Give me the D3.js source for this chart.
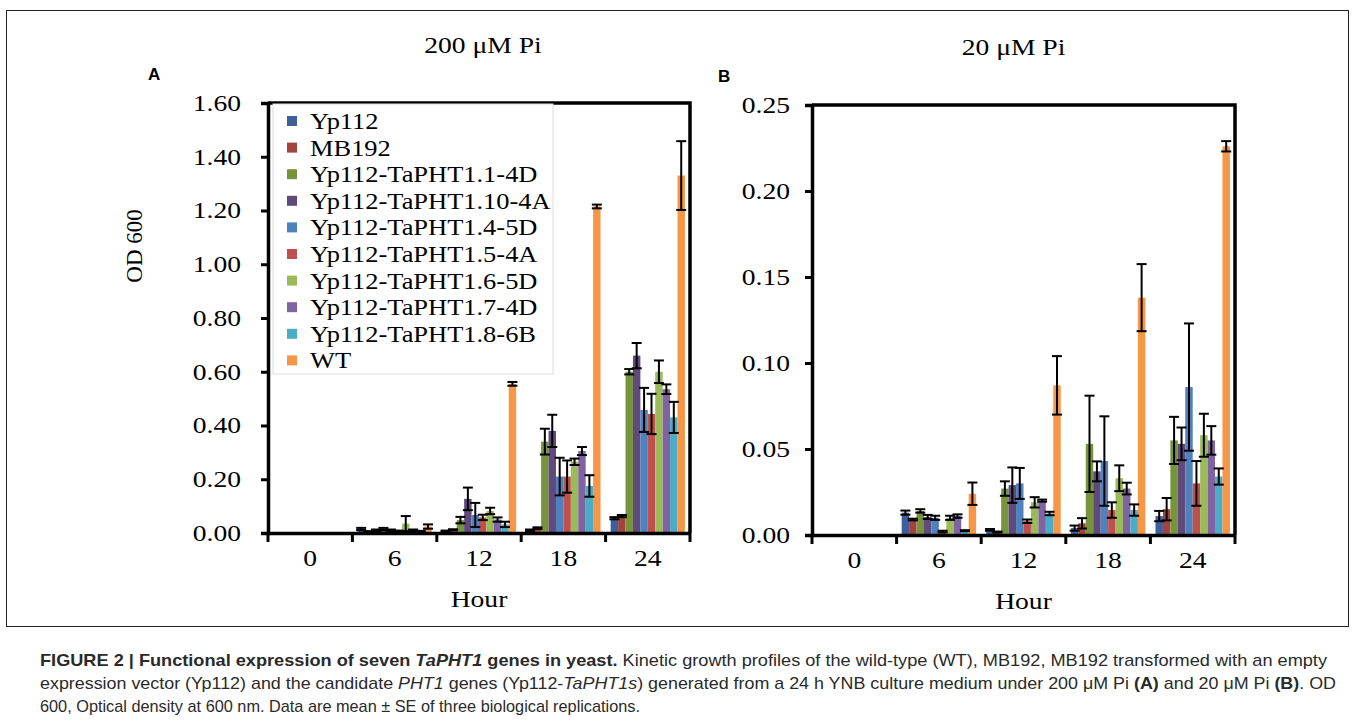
<!DOCTYPE html>
<html>
<head>
<meta charset="utf-8">
<script src="https://cdn.jsdelivr.net/npm/d3@7"></script>
<style>
  body { margin: 0; background: #fff; }
  svg text { fill: #000; }
  .serif { font-family: "Liberation Serif", "Times New Roman", serif; }
  .legende { font-family: "Liberation Serif", "Times New Roman", serif; font-size: 23px; }
  .caption { font-family: "Liberation Sans Narrow", "Liberation Sans", Arial, sans-serif; font-size: 17px; }
  .caption text { fill: #2a2a2a; }
</style>
</head>
<body>
<div id="figure"></div>
<script>
//----------------------------------------------------------------
//  Données
//----------------------------------------------------------------
var heures = ["0", "6", "12", "18", "24"];
var souches = ["Yp112", "MB192", "Yp112-TaPHT1.1-4D", "Yp112-TaPHT1.10-4A",
               "Yp112-TaPHT1.4-5D", "Yp112-TaPHT1.5-4A", "Yp112-TaPHT1.6-5D",
               "Yp112-TaPHT1.7-4D", "Yp112-TaPHT1.8-6B", "WT"];
var couleurs = ["#3f5f9c", "#a2433f", "#77933c", "#604a7b", "#4f81bd",
                "#c0504d", "#9bbb59", "#8064a2", "#4bacc6", "#f79646"];

// panneau A : 200 µM Pi, une ligne par souche (heures 0, 6, 12, 18, 24)
var moyennesA = [
  [0, 0.015, 0.007, 0.010, 0.055],
  [0, 0.005, 0.012, 0.018, 0.063],
  [0, 0.010, 0.048, 0.340, 0.600],
  [0, 0.015, 0.127, 0.380, 0.660],
  [0, 0.010, 0.067, 0.210, 0.458],
  [0, 0.007, 0.058, 0.210, 0.443],
  [0, 0.035, 0.082, 0.265, 0.600],
  [0, 0.010, 0.050, 0.305, 0.535],
  [0, 0.006, 0.032, 0.175, 0.430],
  [0, 0.024, 0.555, 1.215, 1.330]
];
var erreursA = [
  [0, 0.004, 0.002, 0.003, 0.004],
  [0, 0.002, 0.002, 0.003, 0.004],
  [0, 0.003, 0.012, 0.048, 0.010],
  [0, 0.004, 0.042, 0.060, 0.047],
  [0, 0.003, 0.045, 0.070, 0.082],
  [0, 0.002, 0.010, 0.060, 0.075],
  [0, 0.028, 0.012, 0.012, 0.042],
  [0, 0.003, 0.008, 0.015, 0.018],
  [0, 0.002, 0.010, 0.040, 0.058],
  [0, 0.008, 0.007, 0.007, 0.128]
];

// panneau B : 20 µM Pi
var moyennesB = [
  [0, 0.0130, 0.0030, 0.0040, 0.0110],
  [0, 0.0090, 0.0017, 0.0068, 0.0150],
  [0, 0.0140, 0.0270, 0.0530, 0.0550],
  [0, 0.0105, 0.0290, 0.0370, 0.0530],
  [0, 0.0100, 0.0300, 0.0430, 0.0860],
  [0, 0.0020, 0.0080, 0.0145, 0.0300],
  [0, 0.0100, 0.0190, 0.0330, 0.0580],
  [0, 0.0110, 0.0200, 0.0270, 0.0550],
  [0, 0.0025, 0.0125, 0.0145, 0.0340],
  [0, 0.0240, 0.0870, 0.1380, 0.2260]
];
var erreursB = [
  [0, 0.0012, 0.0005, 0.0015, 0.0030],
  [0, 0.0005, 0.0003, 0.0030, 0.0065],
  [0, 0.0010, 0.0042, 0.0280, 0.0137],
  [0, 0.0012, 0.0103, 0.0058, 0.0095],
  [0, 0.0012, 0.0090, 0.0260, 0.0370],
  [0, 0.0005, 0.0010, 0.0045, 0.0130],
  [0, 0.0012, 0.0030, 0.0075, 0.0125],
  [0, 0.0010, 0.0006, 0.0034, 0.0083],
  [0, 0.0003, 0.0010, 0.0033, 0.0047],
  [0, 0.0065, 0.0170, 0.0195, 0.0030]
];

var ticksA = [0, 0.2, 0.4, 0.6, 0.8, 1.0, 1.2, 1.4, 1.6];
var ticksB = [0, 0.05, 0.10, 0.15, 0.20, 0.25];

// le texte de la figure d'origine est étiré horizontalement
var etirement = 1.2;

//----------------------------------------------------------------
//  Création du svg
//----------------------------------------------------------------
var largeurSvg = 1355, hauteurSvg = 721;
var svg = d3.select("#figure").append("svg")
    .attr("width", largeurSvg)
    .attr("height", hauteurSvg);

// cadre autour de la figure
svg.append("rect")
    .attr("x", 6.5).attr("y", 10.5)
    .attr("width", 1342).attr("height", 616)
    .attr("fill", "none").attr("stroke", "#222").attr("stroke-width", 1);

//----------------------------------------------------------------
//  Un panneau = un graphique à barres groupées
//----------------------------------------------------------------
function dessinerPanneau(p) {
    var g = svg.append("g").attr("transform", "translate(" + p.gauche + "," + p.haut + ")");

    var x0 = d3.scaleBand().domain(heures).range([0, p.largeur]).padding(0);
    var x1 = d3.scaleBand().domain(d3.range(souches.length))
        .range([x0.bandwidth() * 0.06, x0.bandwidth() * 0.94]).padding(0);
    var y = d3.scaleLinear().domain(p.domaine).range([p.hauteur, 0]);

    // barres
    var donnees = [];
    p.moyennes.forEach(function(ligne, s) {
        ligne.forEach(function(v, h) {
            donnees.push({s: s, h: heures[h], v: v, e: p.erreurs[s][h]});
        });
    });

    g.append("g").selectAll("rect")
        .data(donnees)
        .enter().append("rect")
            .attr("x", function(d) { return x0(d.h) + x1(d.s); })
            .attr("y", function(d) { return y(d.v); })
            .attr("width", x1.bandwidth())
            .attr("height", function(d) { return y(0) - y(d.v); })
            .attr("fill", function(d) { return couleurs[d.s]; });

    // barres d'erreur
    var milieu = function(d) { return x0(d.h) + x1(d.s) + x1.bandwidth() / 2; };
    var erreurs = g.append("g").selectAll("g")
        .data(donnees.filter(function(d) { return d.v > 0; }))
        .enter().append("g")
            .attr("stroke", "#000").attr("stroke-width", 2);
    erreurs.append("line")
        .attr("x1", milieu).attr("x2", milieu)
        .attr("y1", function(d) { return y(d.v + d.e); })
        .attr("y2", function(d) { return y(Math.max(0, d.v - d.e)); });
    [1, -1].forEach(function(sens) {
        erreurs.append("line")
            .attr("x1", function(d) { return milieu(d) - 5; })
            .attr("x2", function(d) { return milieu(d) + 5; })
            .attr("y1", function(d) { return y(Math.max(0, d.v + sens * d.e)); })
            .attr("y2", function(d) { return y(Math.max(0, d.v + sens * d.e)); });
    });

    // axe y
    var axeY = g.append("g")
        .call(d3.axisLeft(y).tickValues(p.ticks).tickFormat(d3.format(".2f"))
            .tickSizeOuter(0).tickSize(7).tickPadding(p.ecartY / etirement - 7));
    axeY.selectAll("text")
        .attr("font-size", 23).attr("font-family", "Liberation Serif, serif").attr("fill", "#000")
        .attr("transform", "scale(" + etirement + ",1)");
    axeY.selectAll("line").attr("stroke-width", 3).attr("stroke", "#000");
    axeY.select(".domain").attr("stroke-width", 3.5).attr("stroke", "#000");

    // axe x : graduations aux limites des catégories
    var axeX = g.append("g")
        .attr("transform", "translate(0," + p.hauteur + ")")
        .call(d3.axisBottom(x0).tickSize(0).tickPadding(17));
    axeX.selectAll("text")
        .attr("font-size", 23).attr("font-family", "Liberation Serif, serif").attr("fill", "#000")
        .attr("transform", "scale(" + etirement + ",1)");
    axeX.select(".domain").attr("stroke-width", 3.5).attr("stroke", "#000");
    g.append("g").selectAll("line")
        .data(heures.concat(["fin"]))
        .enter().append("line")
            .attr("x1", function(d, i) { return i * x0.step(); })
            .attr("x2", function(d, i) { return i * x0.step(); })
            .attr("y1", p.hauteur).attr("y2", p.hauteur + 9)
            .attr("stroke", "#000").attr("stroke-width", 3);

    // bords haut et droit de la zone de tracé
    g.append("path")
        .attr("d", "M0,0H" + p.largeur + "V" + p.hauteur)
        .attr("fill", "none").attr("stroke", "#000").attr("stroke-width", 3.5);

    // titres
    g.append("text").attr("class", "serif")
        .attr("transform", "translate(" + (p.largeur / 2 + p.decalTitre) + ",-50) scale(" + etirement + ",1)")
        .attr("text-anchor", "middle").attr("font-size", 23)
        .text(p.titre);
    g.append("text").attr("class", "serif")
        .attr("transform", "translate(" + (p.largeur / 2) + "," + (p.hauteur + 74) + ") scale(" + etirement + ",1)")
        .attr("text-anchor", "middle").attr("font-size", 23)
        .text("Hour");
    g.append("text")
        .attr("x", p.xLettre).attr("y", -23)
        .attr("font-family", "Liberation Sans, Arial, sans-serif")
        .attr("font-weight", "bold").attr("font-size", 17)
        .text(p.lettre);

    return {g: g, x0: x0, y: y};
}

var panA = dessinerPanneau({
    gauche: 268, haut: 103, largeur: 422, hauteur: 430,
    domaine: [0, 1.6], ticks: ticksA, ecartY: 27,
    moyennes: moyennesA, erreurs: erreursA,
    titre: "200 \u03bcM Pi", decalTitre: 4, lettre: "A", xLettre: -120
});
var panB = dessinerPanneau({
    gauche: 812, haut: 105, largeur: 423, hauteur: 430,
    domaine: [0, 0.25], ticks: ticksB, ecartY: 22,
    moyennes: moyennesB, erreurs: erreursB,
    titre: "20 \u03bcM Pi", decalTitre: -10, lettre: "B", xLettre: -94
});

// titre de l'axe y du panneau A
svg.append("text").attr("class", "serif")
    .attr("transform", "translate(142,246) rotate(-90)")
    .attr("text-anchor", "middle").attr("font-size", 23)
    .text("OD 600");

//----------------------------------------------------------------
//  Légende du panneau A
//----------------------------------------------------------------
var legende = svg.append("g").attr("class", "legende")
    .attr("transform", "translate(273,104)");
legende.append("rect")
    .attr("width", 280).attr("height", 270)
    .attr("fill", "#fff").attr("stroke", "#dcdcdc").attr("stroke-width", 1);
var items = legende.selectAll("g.item")
    .data(souches)
    .enter().append("g")
        .attr("class", "item")
        .attr("transform", function(d, i) { return "translate(14," + (17 + i * 26.6) + ")"; });
items.append("rect")
    .attr("x", 0).attr("y", -5).attr("width", 10).attr("height", 10)
    .attr("fill", function(d, i) { return couleurs[i]; });
items.append("text")
    .attr("transform", "translate(23,8) scale(1.15,1)")
    .text(function(d) { return d; });

//----------------------------------------------------------------
//  Légende de la figure
//----------------------------------------------------------------
var caption = svg.append("g").attr("class", "caption");
var l1 = caption.append("text").attr("x", 40).attr("y", 666)
    .attr("textLength", 1287).attr("lengthAdjust", "spacingAndGlyphs");
l1.append("tspan").attr("font-weight", "bold").text("FIGURE 2 | Functional expression of seven ");
l1.append("tspan").attr("font-weight", "bold").attr("font-style", "italic").text("TaPHT1");
l1.append("tspan").attr("font-weight", "bold").text(" genes in yeast.");
l1.append("tspan").text(" Kinetic growth profiles of the wild-type (WT), MB192, MB192 transformed with an empty");

var l2 = caption.append("text").attr("x", 40).attr("y", 689)
    .attr("textLength", 1296).attr("lengthAdjust", "spacingAndGlyphs");
l2.append("tspan").text("expression vector (Yp112) and the candidate ");
l2.append("tspan").attr("font-style", "italic").text("PHT1");
l2.append("tspan").text(" genes (Yp112-");
l2.append("tspan").attr("font-style", "italic").text("TaPHT1s");
l2.append("tspan").text(") generated from a 24 h YNB culture medium under 200 \u03bcM Pi ");
l2.append("tspan").attr("font-weight", "bold").text("(A)");
l2.append("tspan").text(" and 20 \u03bcM Pi ");
l2.append("tspan").attr("font-weight", "bold").text("(B)");
l2.append("tspan").text(". OD");

caption.append("text").attr("x", 40).attr("y", 712)
    .attr("textLength", 600).attr("lengthAdjust", "spacingAndGlyphs")
    .text("600, Optical density at 600 nm. Data are mean \u00b1 SE of three biological replications.");
</script>
</body>
</html>
